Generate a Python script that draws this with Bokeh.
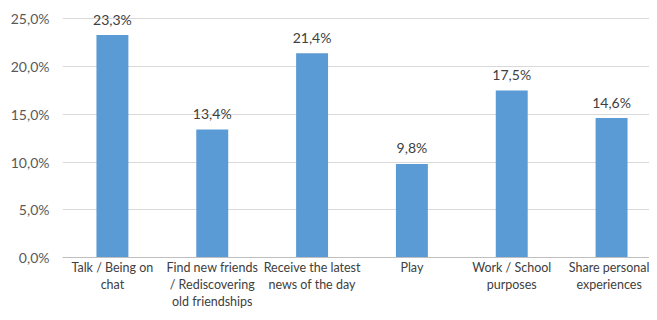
from bokeh.plotting import figure
from bokeh.models import ColumnDataSource, FixedTicker, Range1d
from bokeh.core.properties import value
from bokeh.embed import file_html
from bokeh.resources import INLINE

categories = ["Talk / Being on\nchat", "Find new friends\n/ Rediscovering\nold friendships",
              "Receive the latest\nnews of the day", "Play", "Work / School\npurposes",
              "Share personal\nexperiences"]
values = [23.3, 13.4, 21.4, 9.8, 17.5, 14.6]
labels = ["23,3%", "13,4%", "21,4%", "9,8%", "17,5%", "14,6%"]
y_ticks = [0, 5, 10, 15, 20, 25]
y_tick_labels = ["0,0%", "5,0%", "10,0%", "15,0%", "20,0%", "25,0%"]

idx = list(range(len(categories)))
src = ColumnDataSource(dict(x=idx, top=values, lab=labels))

FONT = "Lato"
p = figure(width=649, height=312, output_backend="svg", toolbar_location=None,
           x_range=Range1d(-0.5, 5.38), y_range=Range1d(0, 26.92),
           min_border_left=62, min_border_right=0, min_border_top=0, min_border_bottom=50)
p.outline_line_color = None
p.background_fill_color = "white"
p.border_fill_color = "white"

p.vbar(x="x", top="top", width=0.32, bottom=0, source=src, fill_color="#5b9bd5", line_color=None)
p.text(x="x", y="top", text="lab", source=src, text_align="center", text_baseline="middle",
       y_offset=-16, text_font=value(FONT), text_font_size="14px", text_color="#404040")

p.xaxis.ticker = FixedTicker(ticks=idx)
p.xaxis.major_label_overrides = {i: c for i, c in zip(idx, categories)}
p.xaxis.major_tick_line_color = None
p.xaxis.minor_tick_line_color = None
p.xaxis.major_tick_out = 0
p.xaxis.minor_tick_out = 0
p.xaxis.major_tick_in = 0
p.xaxis.axis_line_color = "#bfbfbf"
p.xaxis.major_label_text_font = FONT
p.xaxis.major_label_text_font_size = "12.5px"
p.xaxis.major_label_text_line_height = 1.15
p.xaxis.major_label_text_color = "#404040"
p.xaxis.major_label_standoff = 2
p.xgrid.grid_line_color = None

p.yaxis.ticker = FixedTicker(ticks=y_ticks)
p.yaxis.major_label_overrides = {t: l for t, l in zip(y_ticks, y_tick_labels)}
p.yaxis.axis_line_color = None
p.yaxis.major_tick_line_color = None
p.yaxis.minor_tick_line_color = None
p.yaxis.major_tick_out = 0
p.yaxis.minor_tick_out = 0
p.yaxis.major_label_text_font = FONT
p.yaxis.major_label_text_font_size = "14px"
p.yaxis.major_label_text_color = "#595959"
p.yaxis.major_label_standoff = 13
p.ygrid.grid_line_color = "#d9d9d9"
p.ygrid.ticker = FixedTicker(ticks=y_ticks)

open("out.html", "w").write(file_html(p, INLINE))
